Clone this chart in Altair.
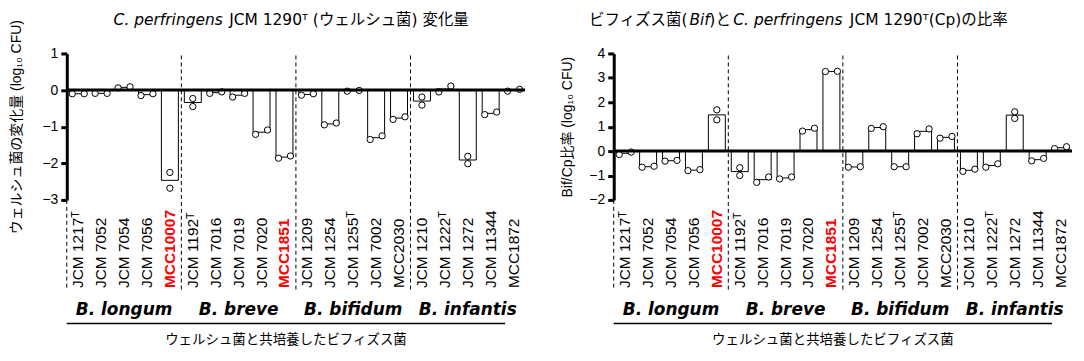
import altair as alt
import pandas as pd

cats = ["JCM 1217ᵀ", "JCM 7052", "JCM 7054", "JCM 7056", "MCC10007",
        "JCM 1192ᵀ", "JCM 7016", "JCM 7019", "JCM 7020", "MCC1851",
        "JCM 1209", "JCM 1254", "JCM 1255ᵀ", "JCM 7002", "MCC2030",
        "JCM 1210", "JCM 1222ᵀ", "JCM 1272", "JCM 11344", "MCC1872"]
species = ["B. longum", "B. breve", "B. bifidum", "B. infantis"]
highlight = ["MCC10007", "MCC1851"]

# Left panel: change of C. perfringens JCM 1290T (log10 CFU), two replicates
left_rep1 = [-0.10, -0.09, 0.06, -0.15, -2.25, -0.23, -0.09, -0.19, -1.21, -1.86,
             -0.14, -0.95, -0.03, -1.35, -0.80, -0.19, -0.05, -1.81, -0.67, -0.03]
left_rep2 = [-0.10, -0.09, 0.09, -0.10, -2.68, -0.45, -0.05, -0.09, -1.09, -1.80,
             -0.10, -0.90, -0.01, -1.25, -0.73, -0.41, 0.11, -2.01, -0.60, 0.02]
# Right panel: Bif/Cp ratio (log10 CFU), two replicates
right_rep1 = [-0.14, -0.66, -0.41, -0.80, 1.69, -0.68, -1.28, -1.14, 0.82, 3.26,
              -0.66, 0.93, -0.64, 0.71, 0.53, -0.83, -0.66, 1.61, -0.40, 0.10]
right_rep2 = [-0.04, -0.62, -0.38, -0.76, 1.28, -1.00, -1.06, -1.06, 0.94, 3.27,
              -0.64, 1.00, -0.64, 0.91, 0.60, -0.74, -0.52, 1.34, -0.30, 0.18]

xlabel_text = "ウェルシュ菌と共培養したビフィズス菌"
left_ytitle = "ウェルシュ菌の変化量 (log₁₀ CFU)"
right_ytitle = "Bif/Cp比率 (log₁₀ CFU)"
left_title = [("C. perfringens", "italic", 47, "left"),
              ("JCM 1290ᵀ (ウェルシュ菌) 変化量", "normal", 163, "left")]
right_title = [("ビフィズス菌(", "normal", 74, "right"),
               ("Bif", "italic", 76, "left"),
               (")と", "normal", 96, "left"),
               ("C. perfringens", "italic", 120, "left"),
               ("JCM 1290ᵀ(Cp)の比率", "normal", 237, "left")]

W = 460
H = 147
LATIN = "Liberation Sans"
TFONT = "DejaVu Sans, Noto Sans CJK JP"
JP = "Noto Sans CJK JP"


def panel(rep1, rep2, ydomain, ytitle, title_parts, title_pad):
    means = [(a + b) / 2 for a, b in zip(rep1, rep2)]
    bars_df = pd.DataFrame({"cat": cats, "mean": means})
    ppu = H / (ydomain[1] - ydomain[0])
    rows = []
    for c, a, b in zip(cats, rep1, rep2):
        stacked = abs(a - b) * ppu > 6.2
        rows.append({"cat": c, "v": a, "slot": 0 if stacked else -1})
        rows.append({"cat": c, "v": b, "slot": 0 if stacked else 1})
    pts = pd.DataFrame(rows)

    xscale = alt.Scale(paddingInner=0, paddingOuter=0)
    hl = str(highlight)
    xaxis = alt.Axis(title=None, labelAngle=-90, labelAlign="left", labelBaseline="middle",
                     labelPadding=88, domain=False, ticks=False, labelFontSize=15.5,
                     labelFont=LATIN,
                     labelColor=alt.expr(f"indexof({hl}, datum.value) >= 0 ? '#ff0000' : '#000000'"),
                     labelFontWeight=alt.expr(f"indexof({hl}, datum.value) >= 0 ? 'bold' : 'normal'"),
                     labelOverlap=False, labelLimit=200)
    yscale = alt.Scale(domain=ydomain, nice=False, zero=False)
    yaxis = alt.Axis(title=ytitle, titleFont="Liberation Sans, Noto Sans CJK JP", titleFontSize=14,
                     titleFontWeight="normal", titleColor="black", titlePadding=title_pad,
                     values=list(range(ydomain[0], ydomain[1] + 1)), format="d",
                     labelOverlap=False,
                     labelFontSize=14, labelFont=LATIN, labelColor="black", labelPadding=3,
                     domainWidth=3, domainColor="black", tickWidth=3, tickSize=6,
                     tickColor="black", grid=False)

    def X(**kw):
        return alt.X("cat:N", sort=cats, scale=xscale, axis=xaxis, **kw)

    def Y(field):
        return alt.Y(field, scale=yscale, axis=yaxis)

    bars = alt.Chart(bars_df).mark_bar(width=alt.RelativeBandSize(0.74), fill="white",
                                       stroke="black", strokeWidth=1).encode(
        x=X(), y=Y("mean:Q"))
    layers = [bars]
    for s in (-1, 0, 1):
        layers.append(
            alt.Chart(pts).transform_filter(alt.datum.slot == s)
            .mark_point(shape="circle", size=40, fill="white", filled=True, stroke="black",
                        strokeWidth=1, opacity=1, xOffset=6 * s)
            .encode(x=X(), y=Y("v:Q"))
        )
    zero = alt.Chart(pd.DataFrame({"z": [0]})).mark_rule(strokeWidth=3, color="black").encode(
        y=Y("z:Q"))
    layers.append(zero)

    seps = pd.DataFrame({"cat": [cats[5], cats[10], cats[15]]})
    layers.append(
        alt.Chart(seps).mark_rule(strokeDash=[4, 3], strokeWidth=1, color="black").encode(
            x=X(bandPosition=0), y=alt.value(2), y2=alt.value(H + 90))
    )
    layers.append(
        alt.Chart(pd.DataFrame({"cat": [cats[0]]})).mark_rule(
            strokeDash=[4, 3], strokeWidth=1, color="black").encode(
            x=X(bandPosition=0), y=alt.value(H), y2=alt.value(H + 90))
    )
    sp = pd.DataFrame({"cat": [cats[2], cats[7], cats[12], cats[17]], "name": species})
    layers.append(
        alt.Chart(sp).mark_text(font="DejaVu Sans", fontStyle="italic", fontWeight="bold",
                                fontSize=17, baseline="middle", color="black").encode(
            x=X(), y=alt.value(H + 111), text="name:N")
    )
    layers.append(
        alt.Chart(pd.DataFrame({"a": [0]})).mark_rule(strokeWidth=1.5, color="black").encode(
            x=alt.value(0), x2=alt.value(W - 20), y=alt.value(H + 124))
    )
    layers.append(
        alt.Chart(pd.DataFrame({"a": [0]})).mark_text(font=JP, fontSize=13.5, baseline="middle",
                                                      color="black").encode(
            x=alt.value((W - 20) / 2), y=alt.value(H + 141), text=alt.value(xlabel_text))
    )
    for txt, style, xp, al in title_parts:
        layers.append(
            alt.Chart(pd.DataFrame({"a": [0]})).mark_text(
                font=TFONT, fontSize=15.5, fontStyle=style, align=al, baseline="alphabetic",
                color="black").encode(
                x=alt.value(xp), y=alt.value(-29), text=alt.value(txt))
        )
    return alt.layer(*layers).properties(width=W, height=H)


left = panel(left_rep1, left_rep2, [-3, 1], left_ytitle, left_title, 18)
right = panel(right_rep1, right_rep2, [-2, 4], right_ytitle, right_title, 14)

chart = alt.hconcat(left, right, spacing=34).properties(
    padding={"left": 2, "top": 4, "right": 2, "bottom": 2}
).configure_view(stroke=None)

chart.save("out.html", embed_options={"renderer": "svg", "actions": False})
